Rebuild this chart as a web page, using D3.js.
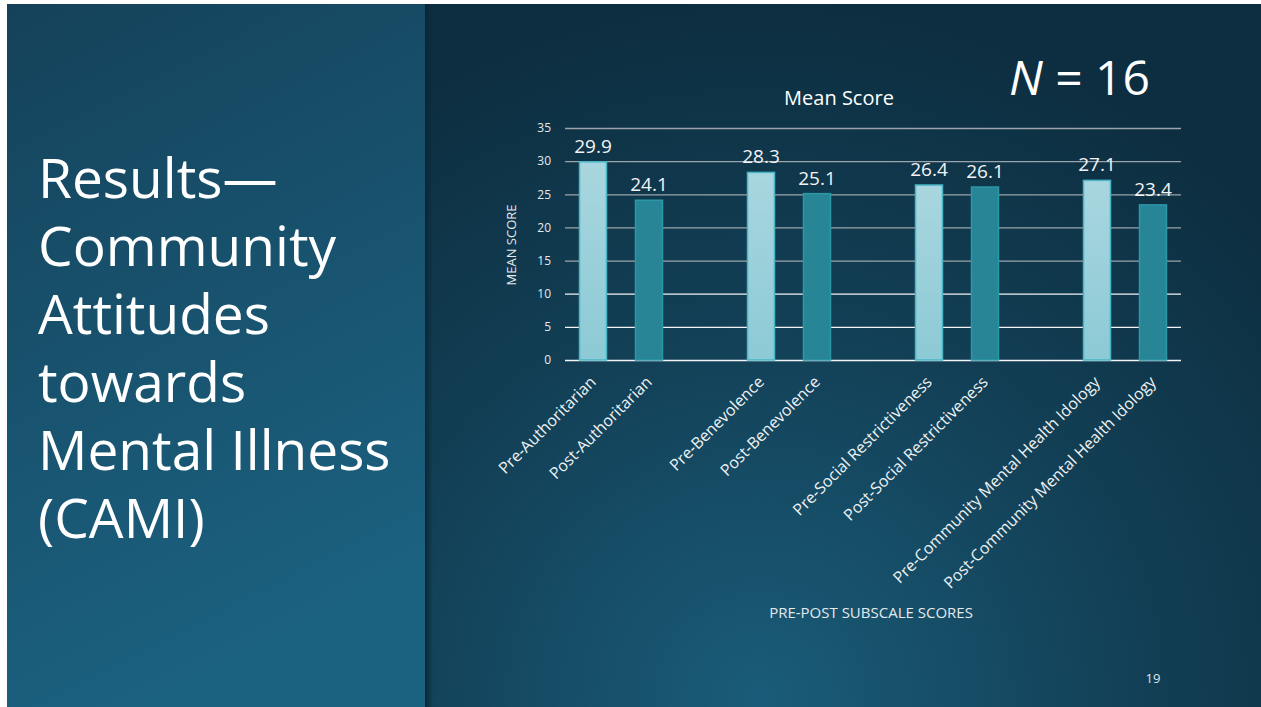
<!DOCTYPE html>
<html>
<head>
<meta charset="utf-8">
<script src="https://cdn.jsdelivr.net/npm/d3@7"></script>
<style>
  html, body { margin: 0; padding: 0; background: #ffffff; }
  svg { display: block; }
  text { font-family: 'Open Sans', 'Noto Sans', sans-serif; }
</style>
</head>
<body>
<div id="chart-area"></div>
<script>
// Data
const subscales = ['Authoritarian', 'Benevolence', 'Social Restrictiveness', 'Community Mental Health Idology'];
const phases = ['Pre', 'Post'];
const preScores = [29.9, 28.3, 26.4, 27.1];
const postScores = [24.1, 25.1, 26.1, 23.4];
const yTicks = [0, 5, 10, 15, 20, 25, 30, 35];
const titleLines = ['Results\u2014', 'Community', 'Attitudes', 'towards', 'Mental Illness', '(CAMI)'];

const canvasWidth = 1261;
const canvasHeight = 707;
const plot = { left: 565, right: 1181, top: 128, bottom: 360 };

const svg = d3
  .select('#chart-area')
  .append('svg')
  .attr('width', canvasWidth)
  .attr('height', canvasHeight);

const defs = svg.append('defs');

// Slide backgrounds
const leftGrad = defs.append('linearGradient').attr('id', 'left-bg').attr('x1', 0).attr('y1', 0).attr('x2', 0.3).attr('y2', 1);
leftGrad.append('stop').attr('offset', '0%').attr('stop-color', '#15425a');
leftGrad.append('stop').attr('offset', '100%').attr('stop-color', '#1b6180');

const rightGrad = defs.append('radialGradient').attr('id', 'right-bg')
  .attr('gradientUnits', 'userSpaceOnUse')
  .attr('cx', 760).attr('cy', 700).attr('r', 700);
rightGrad.append('stop').attr('offset', '0%').attr('stop-color', '#1a5c79');
rightGrad.append('stop').attr('offset', '55%').attr('stop-color', '#123f55');
rightGrad.append('stop').attr('offset', '100%').attr('stop-color', '#0d2e40');

const shadowGrad = defs.append('linearGradient').attr('id', 'divider');
shadowGrad.append('stop').attr('offset', '0%').attr('stop-color', '#0a2533').attr('stop-opacity', 0.9);
shadowGrad.append('stop').attr('offset', '100%').attr('stop-color', '#0a2533').attr('stop-opacity', 0);

const preGrad = defs.append('linearGradient').attr('id', 'pre-fill').attr('x1', 0).attr('y1', 0).attr('x2', 0).attr('y2', 1);
preGrad.append('stop').attr('offset', '0%').attr('stop-color', '#a9d6df');
preGrad.append('stop').attr('offset', '100%').attr('stop-color', '#8ccad5');

svg.append('rect').attr('x', 7).attr('y', 4).attr('width', canvasWidth - 7).attr('height', canvasHeight - 4).attr('fill', 'url(#right-bg)');
svg.append('rect').attr('x', 7).attr('y', 4).attr('width', 418).attr('height', canvasHeight - 4).attr('fill', 'url(#left-bg)');
svg.append('rect').attr('x', 425).attr('y', 4).attr('width', 8).attr('height', canvasHeight - 4).attr('fill', 'url(#divider)');

// Slide title
svg
  .append('text')
  .attr('x', 38)
  .attr('y', 198)
  .attr('fill', '#ffffff')
  .attr('font-size', '55px')
  .selectAll('tspan')
  .data(titleLines)
  .enter()
  .append('tspan')
  .attr('x', 38)
  .attr('dy', (d, i) => (i === 0 ? 0 : 68))
  .text(d => d);

// N = 16
const nLabel = svg
  .append('text')
  .attr('x', 1150)
  .attr('y', 95)
  .attr('text-anchor', 'end')
  .attr('fill', '#ffffff')
  .attr('font-size', '48px');
nLabel.append('tspan').attr('font-style', 'italic').text('N');
nLabel.append('tspan').text(' = 16');

// Scales
const yScale = d3.scaleLinear().domain([0, 35]).range([plot.bottom, plot.top]);
const xGroup = d3.scaleBand().domain(subscales).range([plot.left, plot.right]).paddingInner(1 / 3).paddingOuter(0);
const xPhase = d3.scaleBand().domain(phases).range([0, xGroup.bandwidth()]).paddingInner(0.5).paddingOuter(0.25);

const chart = svg.append('g');

// Grid lines
chart
  .append('g')
  .selectAll('line')
  .data(yTicks)
  .enter()
  .append('line')
  .attr('x1', plot.left)
  .attr('x2', plot.right)
  .attr('y1', d => yScale(d) + 0.5)
  .attr('y2', d => yScale(d) + 0.5)
  .attr('stroke', d => (d >= 15 ? '#9aa4aa' : '#f2f4f5'))
  .attr('stroke-width', 1.3);

// Y-Axis
const yAxis = d3.axisLeft(yScale).tickValues(yTicks).tickSize(0).tickPadding(0);
const yAxisGroup = chart
  .append('g')
  .attr('transform', `translate(${plot.left - 14},0)`)
  .call(yAxis);
yAxisGroup.select('.domain').remove();
yAxisGroup
  .selectAll('text')
  .attr('fill', '#e4e9ec')
  .attr('font-size', '12px')
  .attr('font-family', "'Open Sans', sans-serif");

// Y-Axis-Label
chart
  .append('text')
  .attr('transform', `translate(516, ${(plot.top + plot.bottom) / 2 + 1}) rotate(-90)`)
  .attr('text-anchor', 'middle')
  .attr('fill', '#e4e9ec')
  .attr('font-size', '13px')
  .text('MEAN SCORE');

// Chart title
chart
  .append('text')
  .attr('x', 839)
  .attr('y', 105)
  .attr('text-anchor', 'middle')
  .attr('fill', '#ffffff')
  .attr('font-size', '20px')
  .text('Mean Score');

// Bars
const bars = subscales.flatMap((s, i) => [
  { subscale: s, phase: 'Pre', value: preScores[i] },
  { subscale: s, phase: 'Post', value: postScores[i] }
]);

const barX = d => xGroup(d.subscale) + xPhase(d.phase);

chart
  .append('g')
  .selectAll('rect')
  .data(bars)
  .enter()
  .append('rect')
  .attr('x', d => barX(d) + 0.5)
  .attr('y', d => yScale(d.value))
  .attr('width', xPhase.bandwidth() - 1)
  .attr('height', d => yScale(0) - yScale(d.value))
  .attr('fill', d => (d.phase === 'Pre' ? 'url(#pre-fill)' : '#278595'))
  .attr('stroke', d => (d.phase === 'Pre' ? '#47b6c6' : '#2b98a8'))
  .attr('stroke-width', 1.5);

// Value labels
chart
  .append('g')
  .selectAll('text')
  .data(bars)
  .enter()
  .append('text')
  .attr('x', d => barX(d) + xPhase.bandwidth() / 2)
  .attr('y', d => yScale(d.value) - 9)
  .attr('text-anchor', 'middle')
  .attr('fill', '#f2f4f5')
  .attr('font-size', '19px')
  .text(d => d.value.toFixed(1));

// X-Axis labels
chart
  .append('g')
  .selectAll('text')
  .data(bars)
  .enter()
  .append('text')
  .attr('transform', d => `translate(${barX(d) + xPhase.bandwidth() / 2 + 4},${plot.bottom + 23}) rotate(-45)`)
  .attr('text-anchor', 'end')
  .attr('fill', '#eef2f4')
  .attr('font-size', '16px')
  .text(d => `${d.phase}-${d.subscale}`);

// X-Axis-Label
chart
  .append('text')
  .attr('x', 871)
  .attr('y', 618)
  .attr('text-anchor', 'middle')
  .attr('fill', '#e4e9ec')
  .attr('font-size', '15px')
  .text('PRE-POST SUBSCALE SCORES');

// Slide number
svg
  .append('text')
  .attr('x', 1153)
  .attr('y', 683)
  .attr('text-anchor', 'middle')
  .attr('fill', '#dfe6ea')
  .attr('font-size', '13px')
  .text('19');
</script>
</body>
</html>
